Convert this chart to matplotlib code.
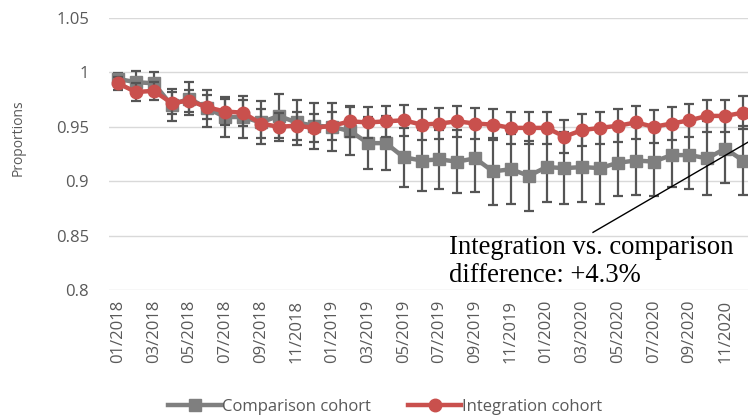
import numpy as np
import matplotlib.pyplot as plt
from matplotlib.lines import Line2D

# monthly labels 01/2018 .. 12/2020
months = [f"{m:02d}/{y}" for y in (2018, 2019, 2020) for m in range(1, 13)]

comparison = [0.994, 0.991, 0.990, 0.970, 0.976, 0.967, 0.959, 0.959, 0.954, 0.960,
              0.954, 0.951, 0.950, 0.946, 0.935, 0.935, 0.922, 0.919, 0.920, 0.918,
              0.921, 0.909, 0.911, 0.905, 0.913, 0.912, 0.913, 0.912, 0.917, 0.919,
              0.918, 0.924, 0.924, 0.921, 0.930, 0.919]
comparison_err = [0.005, 0.010, 0.010, 0.015, 0.015, 0.017, 0.018, 0.019, 0.020, 0.020,
                  0.021, 0.021, 0.022, 0.022, 0.024, 0.025, 0.027, 0.028, 0.027, 0.029,
                  0.031, 0.031, 0.032, 0.032, 0.032, 0.033, 0.032, 0.033, 0.031, 0.032,
                  0.032, 0.029, 0.031, 0.034, 0.032, 0.032]

integration = [0.990, 0.982, 0.983, 0.972, 0.974, 0.968, 0.964, 0.963, 0.953, 0.950,
               0.951, 0.949, 0.951, 0.955, 0.954, 0.955, 0.956, 0.952, 0.953, 0.955,
               0.953, 0.952, 0.949, 0.949, 0.949, 0.941, 0.947, 0.949, 0.951, 0.954,
               0.950, 0.953, 0.956, 0.960, 0.960, 0.963]
integration_err = [0.006, 0.008, 0.008, 0.010, 0.010, 0.011, 0.012, 0.012, 0.013, 0.013,
                   0.013, 0.013, 0.013, 0.014, 0.014, 0.014, 0.014, 0.014, 0.014, 0.014,
                   0.014, 0.014, 0.015, 0.015, 0.015, 0.015, 0.015, 0.015, 0.015, 0.015,
                   0.015, 0.015, 0.015, 0.015, 0.015, 0.015]

yticks = [0.8, 0.85, 0.9, 0.95, 1.0, 1.05]
ytick_labels = ["0.8", "0.85", "0.9", "0.95", "1", "1.05"]

plt.rcParams['font.family'] = ['Open Sans', 'DejaVu Sans']

fig = plt.figure(figsize=(7.48, 4.2), dpi=100)
ax = fig.add_axes([109 / 748, 1 - 290 / 420, 643 / 748, 272 / 420])

x = np.arange(len(months))
err_col = "#555555"
grey = "#7f7f7f"
red = "#c9504d"

ax.errorbar(x, comparison, yerr=comparison_err, color=grey, lw=3.2, marker='s', ms=8.5,
            ecolor=err_col, elinewidth=1.6, capsize=3.6, capthick=1.6, zorder=3)
ax.errorbar(x, integration, yerr=integration_err, color=red, lw=3.2, marker='o', ms=9,
            ecolor=err_col, elinewidth=1.6, capsize=3.6, capthick=1.6, zorder=4)

ax.set_xlim(-0.5, len(months) - 0.5)
ax.set_ylim(0.8, 1.05)
ax.set_yticks(yticks)
ax.set_yticklabels(ytick_labels)
ax.set_xticks(x[::2])
ax.set_xticklabels(months[::2], rotation=90)
ax.tick_params(axis='both', length=0, labelsize=12, labelcolor="#595959")
ax.tick_params(axis='y', pad=14.4)
ax.tick_params(axis='x', pad=7)
ax.grid(axis='y', color="#d9d9d9", lw=1)
ax.set_axisbelow(True)
for s in ax.spines.values():
    s.set_visible(False)

fig.text(18 / 748, 1 - 138 / 420, "Proportions", rotation=90, ha='center', va='center',
         fontsize=10, color="#595959")

# annotation
ax.plot([26.6, 35.5], [0.853, 0.938], color="black", lw=1, clip_on=False, zorder=5)
fig.text(449 / 748, 1 - 253.5 / 420, "Integration vs. comparison", ha='left', va='baseline',
         fontsize=19.2, family='Liberation Serif', color='black')
fig.text(449 / 748, 1 - 282 / 420, "difference: +4.3%", ha='left', va='baseline',
         fontsize=19.2, family='Liberation Serif', color='black')

handles = [Line2D([], [], color=grey, lw=3.2, marker='s', ms=8.5),
           Line2D([], [], color=red, lw=3.2, marker='o', ms=9)]
leg = fig.legend(handles, ["Comparison cohort", "Integration cohort"], loc='center',
                 bbox_to_anchor=(0.515, 1 - 407 / 420), ncol=2, frameon=False,
                 fontsize=12, handlelength=3.2, handletextpad=0.05, columnspacing=2.2)
for t in leg.get_texts():
    t.set_color("#595959")

fig.savefig("out.png", dpi=100)
